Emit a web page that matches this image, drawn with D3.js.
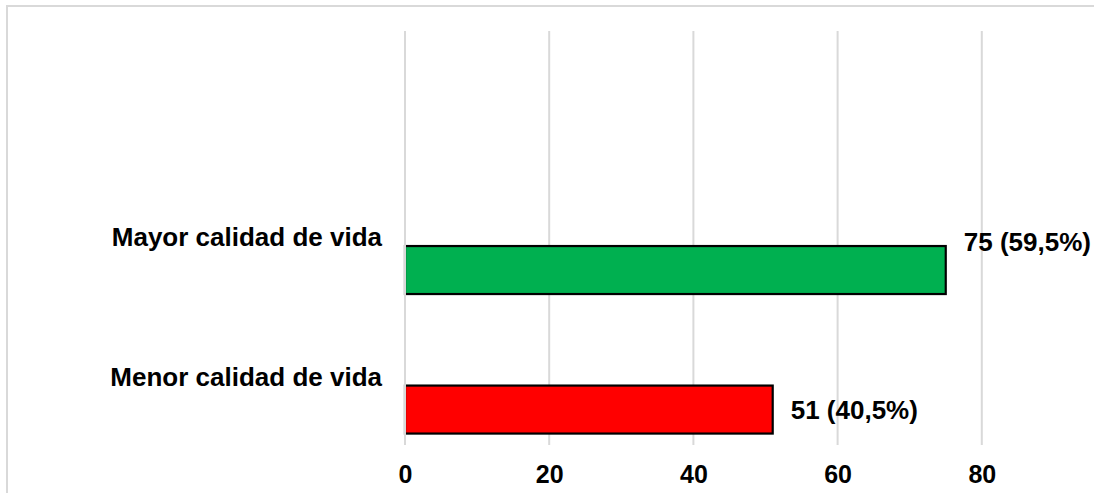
<!DOCTYPE html>
<html>
<head>
<meta charset="utf-8">
<script src="https://cdn.jsdelivr.net/npm/d3@7"></script>
<style>
  html, body { margin: 0; padding: 0; background: #fff; }
  svg { display: block; font-family: "Liberation Sans", Arial, sans-serif; }
</style>
</head>
<body>
<svg id="chart" width="1094" height="493"></svg>
<script>
// Categories (top to bottom), counts and share labels
const categories = ["Mayor calidad de vida", "Menor calidad de vida"];
const counts = [75, 51];
const shares = ["59,5%", "40,5%"];
const barColors = ["#00b050", "#ff0000"];
const tickValues = [0, 20, 40, 60, 80];

const W = 1094, H = 493;
const svg = d3.select("#chart");

// Outer frame of the chart area (runs past the right and bottom edges)
svg.append("rect")
  .attr("x", 7).attr("y", 6)
  .attr("width", W + 20).attr("height", H + 20)
  .attr("fill", "#fff")
  .attr("stroke", "#d9d9d9")
  .attr("stroke-width", 2);

const plot = { left: 405, right: 981.8, top: 31, bottom: 445 };

const x = d3.scaleLinear().domain([0, 80]).range([plot.left, plot.right]);
const y = d3.scaleBand()
  .domain(categories)
  .range([197.2, 482.4])
  .paddingInner(0.656)
  .paddingOuter(0.35);

// Vertical gridlines
const grid = svg.append("g");
grid.selectAll("line")
  .data(tickValues.filter(d => d !== 0))
  .join("line")
  .attr("x1", d => x(d)).attr("x2", d => x(d))
  .attr("y1", plot.top).attr("y2", plot.bottom)
  .attr("stroke", "#d9d9d9")
  .attr("stroke-width", 2);

const rows = categories.map((c, i) => ({ cat: c, v: counts[i], share: shares[i], color: barColors[i] }));

// Bars
svg.append("g").selectAll("rect")
  .data(rows)
  .join("rect")
  .attr("x", x(0))
  .attr("y", d => y(d.cat))
  .attr("width", d => x(d.v) - x(0))
  .attr("height", y.bandwidth())
  .attr("fill", d => d.color)
  .attr("stroke", "#000")
  .attr("stroke-width", 2.2);

// Zero line sits above the bars' left edge
svg.append("line")
  .attr("x1", x(0)).attr("x2", x(0))
  .attr("y1", plot.top).attr("y2", plot.bottom)
  .attr("stroke", "#d9d9d9")
  .attr("stroke-width", 2);

// Category labels, right-aligned left of the axis and raised above each bar
svg.append("g").selectAll("text")
  .data(rows)
  .join("text")
  .attr("x", plot.left - 23)
  .attr("y", d => y(d.cat) + y.bandwidth() / 2 - 24)
  .attr("text-anchor", "end")
  .attr("font-size", 26)
  .attr("font-weight", "bold")
  .attr("fill", "#000")
  .text(d => d.cat);

// Value labels at the bar ends; the long bar's label is lifted clear of the last gridline
svg.append("g").selectAll("text")
  .data(rows)
  .join("text")
  .attr("x", d => x(d.v) + 18)
  .attr("y", d => {
    const mid = y(d.cat) + y.bandwidth() / 2;
    return x(d.v) + 18 > plot.right - 40 ? mid - 19.5 : mid + 9.5;
  })
  .attr("font-size", 26)
  .attr("font-weight", "bold")
  .attr("fill", "#000")
  .text(d => `${d.v} (${d.share})`);

// Bottom axis tick labels
const axis = d3.axisBottom(x).tickValues(tickValues).tickSize(0).tickPadding(0).tickFormat(d3.format("d"));
const ax = svg.append("g").attr("transform", `translate(0,${plot.bottom})`).call(axis);
ax.select(".domain").remove();
ax.selectAll("text")
  .attr("y", 38)
  .attr("dy", 0)
  .attr("font-size", 25)
  .attr("font-weight", "bold")
  .attr("font-family", "'Liberation Sans', Arial, sans-serif")
  .attr("fill", "#000");
</script>
</body>
</html>
